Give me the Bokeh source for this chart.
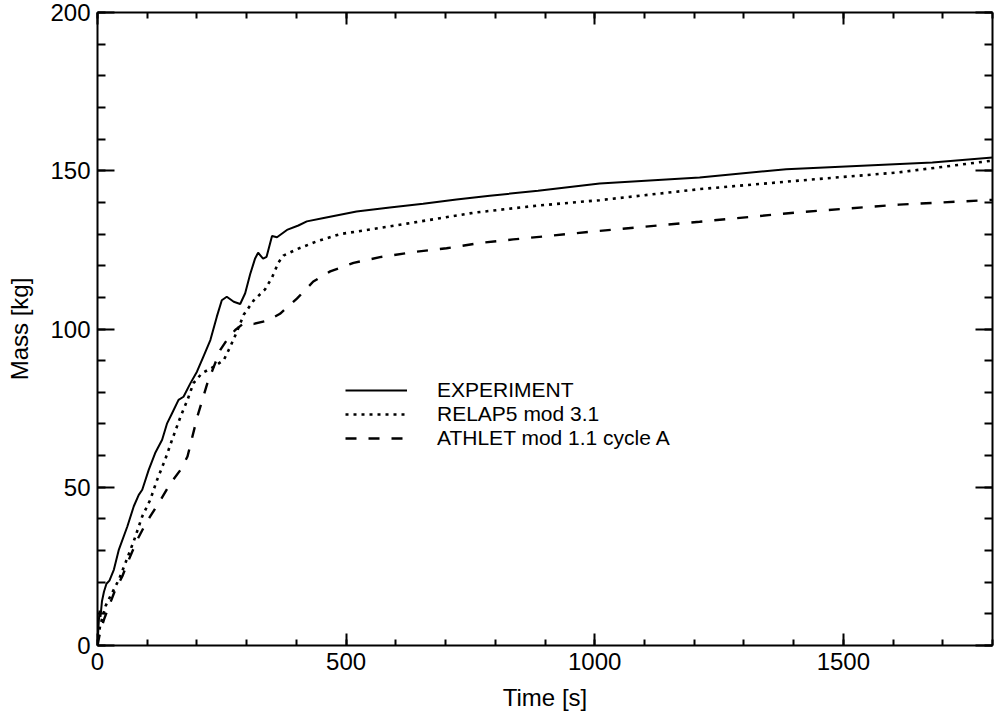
from bokeh.plotting import figure
from bokeh.models import (LinearAxis, Legend, LegendItem, Range1d, SingleIntervalTicker,
                          CustomLabelingPolicy)
from bokeh.embed import file_html
from bokeh.resources import INLINE

# Measured mass inventory [kg] versus time [s]
time_exp = [0, 2, 4, 6, 9, 13, 18, 24, 33, 43, 60, 73, 83, 90, 103, 116, 130, 140, 150,
            163, 173, 187, 200, 213, 227, 240, 250, 260, 274, 287, 297, 307, 317, 323,
            333, 340, 351, 361, 381, 404, 421, 455, 521, 588, 655, 722, 789, 886, 1010,
            1211, 1385, 1679, 1800]
mass_exp = [0, 6, 11, 9, 14, 17, 19.5, 20.5, 24, 30.3, 37.6, 44, 47.6, 49.2, 55.5, 60.8,
            65, 70.2, 73.4, 77.6, 78.6, 82.9, 86.5, 91.3, 96.5, 103.9, 109.1, 110.2, 108.6,
            107.9, 111.3, 117.3, 122.3, 124.1, 122.2, 122.8, 129.4, 129.0, 131.3, 132.7,
            134.0, 135.1, 137.1, 138.4, 139.6, 140.9, 142.1, 143.7, 146.0, 147.9, 150.5,
            152.6, 154.2]

# RELAP5 mod 3.1 calculation
time_relap = [0, 5, 16, 26, 43, 56, 73, 90, 106, 120, 136, 150, 167, 181, 193, 210, 234,
              254, 267, 280, 294, 314, 337, 351, 364, 374, 401, 441, 488, 555, 622, 689,
              755, 822, 886, 1010, 1211, 1412, 1612, 1800]
mass_relap = [0, 6, 12.4, 15.6, 20.8, 26, 33, 40.8, 46, 52.4, 58.7, 65, 72.3, 77.6, 82.9,
              86, 88.1, 90.2, 94.4, 99, 104.5, 109, 112.5, 116.3, 121, 123.2, 125.2, 127.7,
              130, 131.6, 133.3, 135, 136.7, 137.9, 139, 140.7, 144.2, 146.9, 149.5, 153.2]

# ATHLET mod 1.1 cycle A calculation
time_athlet = [0, 5, 13, 23, 36, 50, 63, 80, 96, 106, 127, 147, 167, 181, 191, 201, 211,
               221, 234, 247, 260, 277, 294, 314, 341, 367, 401, 434, 468, 515, 568, 635,
               702, 769, 836, 1010, 1211, 1412, 1612, 1800]
mass_athlet = [0, 4, 8.2, 12.4, 17.7, 21.9, 27.1, 33.4, 38.2, 40.8, 46, 51.3, 55.5, 59.7,
               66.1, 72.4, 77.6, 82.9, 88.1, 93.4, 96.5, 99.7, 101.8, 101.6, 102.6, 104.8,
               109.6, 115, 118.2, 120.9, 122.7, 124.3, 125.5, 127.2, 128.3, 131, 133.9,
               136.9, 139.3, 140.8]

series_labels = ["EXPERIMENT", "RELAP5 mod 3.1", "ATHLET mod 1.1 cycle A"]

FONT = "Liberation Sans"

p = figure(width=997, height=713, output_backend="svg", toolbar_location=None,
           x_range=Range1d(0, 1800), y_range=Range1d(0, 200),
           min_border_left=97, min_border_right=4, min_border_top=12,
           min_border_bottom=67, background_fill_color="white",
           border_fill_color="white")
p.xgrid.visible = False
p.ygrid.visible = False
p.outline_line_color = None

x_ticker = SingleIntervalTicker(interval=500, num_minor_ticks=5)
y_ticker = SingleIntervalTicker(interval=50, num_minor_ticks=5)

# mirror axes on top/right carry ticks only, no labels
no_labels = CustomLabelingPolicy(code="""
    const n = indices.size
    for (let i = 0; i < n; i++) indices.unset(i)
    return indices
""")


def style_axis(ax, major_len, minor_len, show_labels):
    ax.axis_line_width = 2
    ax.axis_line_color = "black"
    ax.major_tick_line_width = 2
    ax.minor_tick_line_width = 2
    ax.major_tick_line_color = "black"
    ax.minor_tick_line_color = "black"
    ax.major_tick_in = major_len
    ax.major_tick_out = 0
    ax.minor_tick_in = minor_len
    ax.minor_tick_out = 0
    ax.major_label_text_font = FONT
    ax.axis_label_text_font = FONT
    ax.axis_label_text_font_style = "normal"
    ax.major_label_text_color = "black"
    ax.axis_label_text_color = "black"
    ax.major_label_text_line_height = 1.0
    ax.axis_label_text_line_height = 1.0
    if show_labels:
        ax.major_label_text_font_size = "24px"
        ax.axis_label_text_font_size = "24px"
    else:
        ax.major_label_text_font_size = "1px"
        ax.major_label_standoff = 0
        ax.major_label_policy = no_labels


xa = p.xaxis[0]
xa.ticker = x_ticker
xa.axis_label = "Time [s]"
style_axis(xa, 12, 6, True)
xa.major_label_standoff = 7
xa.axis_label_standoff = 11

ya = p.yaxis[0]
ya.ticker = y_ticker
ya.axis_label = "Mass [kg]"
style_axis(ya, 17, 8, True)
ya.major_label_standoff = 7
ya.axis_label_standoff = 14

top = LinearAxis(ticker=x_ticker)
style_axis(top, 12, 6, False)
p.add_layout(top, "above")

right = LinearAxis(ticker=y_ticker)
style_axis(right, 17, 8, False)
p.add_layout(right, "right")

r_exp = p.line(time_exp, mass_exp, line_color="black", line_width=2)
r_relap = p.line(time_relap, mass_relap, line_color="black", line_width=2.6,
                 line_dash="3 5")
r_athlet = p.line(time_athlet, mass_athlet, line_color="black", line_width=2.4,
                  line_dash="11 12")

legend = Legend(
    items=[LegendItem(label=series_labels[0], renderers=[r_exp]),
           LegendItem(label=series_labels[1], renderers=[r_relap]),
           LegendItem(label=series_labels[2], renderers=[r_athlet])],
    location=(248, 195), orientation="vertical",
    border_line_color=None, background_fill_alpha=0,
    padding=0, margin=0, spacing=0,
    glyph_width=62, glyph_height=22, label_height=22, label_standoff=30,
    label_text_font=FONT, label_text_font_size="21px", label_text_color="black",
    label_text_line_height=1.0,
)
p.add_layout(legend)

open("out.html", "w").write(file_html(p, INLINE))
